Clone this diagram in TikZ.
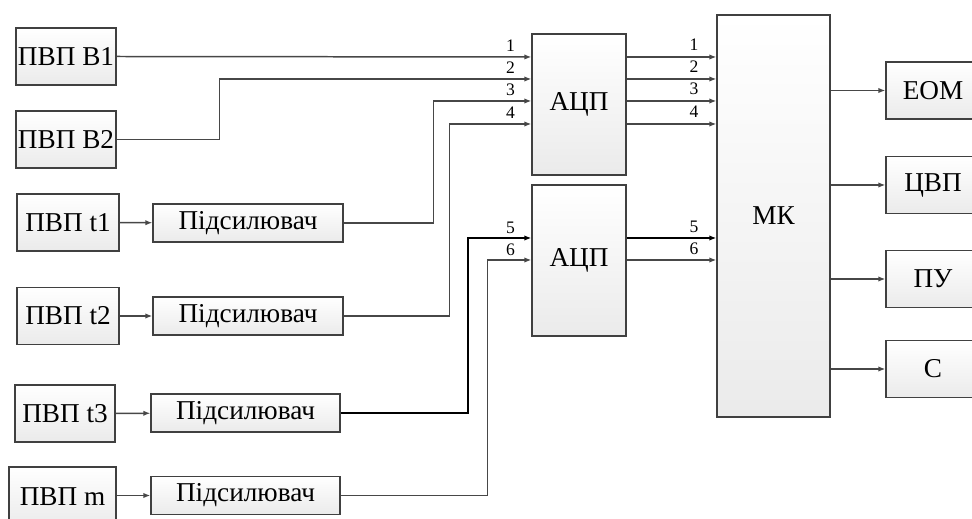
\documentclass[tikz,border=0pt]{standalone}
\usepackage{fontspec}
\setmainfont{Liberation Serif}
\usetikzlibrary{arrows.meta,calc}

\begin{document}
\begin{tikzpicture}[x=0.02cm,y=-0.02cm,
  blk/.style={draw=black!75,line width=0.65pt,top color=white,bottom color=black!8,inner sep=0pt,font=\fontsize{15.5}{17}\selectfont},
  link/.style={draw=black!72,line width=0.85pt},
  arr/.style={-{Latex[length=4pt,width=3pt]}},
  num/.style={font=\fontsize{10}{11}\selectfont,inner sep=0pt}]
\useasboundingbox (0,0) rectangle (972,519);

\node[blk,minimum width=100*0.02cm,minimum height=57*0.02cm] (b1) at (66,56.5) {ПВП B1};
\node[blk,minimum width=100*0.02cm,minimum height=57*0.02cm] (b2) at (66,139.5) {ПВП B2};
\node[blk,minimum width=102*0.02cm,minimum height=57*0.02cm] (t1) at (68,222.5) {ПВП t1};
\node[blk,minimum width=102*0.02cm,minimum height=57*0.02cm] (t2) at (68,316) {ПВП t2};
\node[blk,minimum width=100*0.02cm,minimum height=57*0.02cm] (t3) at (65,413.5) {ПВП t3};
\node[blk,minimum width=107*0.02cm,minimum height=60*0.02cm] (m) at (62.5,497) {ПВП m};

\node[blk,minimum width=190*0.02cm,minimum height=38*0.02cm] (a1) at (248,223) {Підсилювач};
\node[blk,minimum width=190*0.02cm,minimum height=38*0.02cm] (a2) at (248,316) {Підсилювач};
\node[blk,minimum width=189*0.02cm,minimum height=38*0.02cm] (a3) at (245.5,413) {Підсилювач};
\node[blk,minimum width=189*0.02cm,minimum height=38*0.02cm] (a4) at (245.5,495.5) {Підсилювач};

\node[blk,minimum width=94*0.02cm,minimum height=141*0.02cm] (adc1) at (579,104.5) {АЦП};
\node[blk,minimum width=94*0.02cm,minimum height=151*0.02cm] (adc2) at (579,260.5) {АЦП};
\node[blk,minimum width=113*0.02cm,minimum height=402*0.02cm] (mk) at (773.5,216) {МК};

\node[blk,minimum width=94*0.02cm,minimum height=57*0.02cm] (eom) at (933,90.5) {ЕОМ};
\node[blk,minimum width=94*0.02cm,minimum height=57*0.02cm] (cvp) at (933,185) {ЦВП};
\node[blk,minimum width=94*0.02cm,minimum height=57*0.02cm] (pu) at (933,279) {ПУ};
\node[blk,minimum width=94*0.02cm,minimum height=57*0.02cm] (s) at (933,369) {С};

\foreach \i/\y in {1/57,2/79,3/101,4/124} {
  \coordinate (p\i) at (adc1.west |- 0,\y);
  \node[num] (n\i) at ($(p\i)+(-21,-11)$) {\i};
  \draw[link,arr] (adc1.east |- 0,\y) -- node[num,pos=0.75,above=3pt] {\i} (mk.west |- 0,\y);
}
\foreach \i/\y in {5/238,6/260} {
  \coordinate (p\i) at (adc2.west |- 0,\y);
  \node[num] (n\i) at ($(p\i)+(-21,-10)$) {\i};
}
\draw[link,draw=black,line width=1.2pt,arr] (adc2.east |- 0,238) -- node[num,pos=0.75,above=2.5pt] {5} (mk.west |- 0,238);
\draw[link,arr] (adc2.east |- 0,260) -- node[num,pos=0.75,above=2.5pt] {6} (mk.west |- 0,260);

\draw[link,arr] (b1.east) -- (p1);
\draw[link,arr] (b2.east) -- ++(103,0) |- (p2);
\draw[link,arr] (a1.east) -- ++(90,0) |- (p3);
\draw[link,arr] (a2.east) -- ++(106,0) |- (p4);
\draw[link,draw=black,line width=1.2pt,arr] (a3.east) -- ++(127,0) |- (p5);
\draw[link,arr] (a4.east) -- ++(147,0) |- (p6);

\draw[link,arr] (t1) -- (a1);
\draw[link,arr] (t2) -- (a2);
\draw[link,arr] (t3) -- (a3);
\draw[link,arr] (m.east |- a4) -- (a4);

\draw[link,arr] (mk.east |- eom) -- (eom);
\draw[link,arr] (mk.east |- cvp) -- (cvp);
\draw[link,arr] (mk.east |- pu) -- (pu);
\draw[link,arr] (mk.east |- s) -- (s);
\end{tikzpicture}
\end{document}
